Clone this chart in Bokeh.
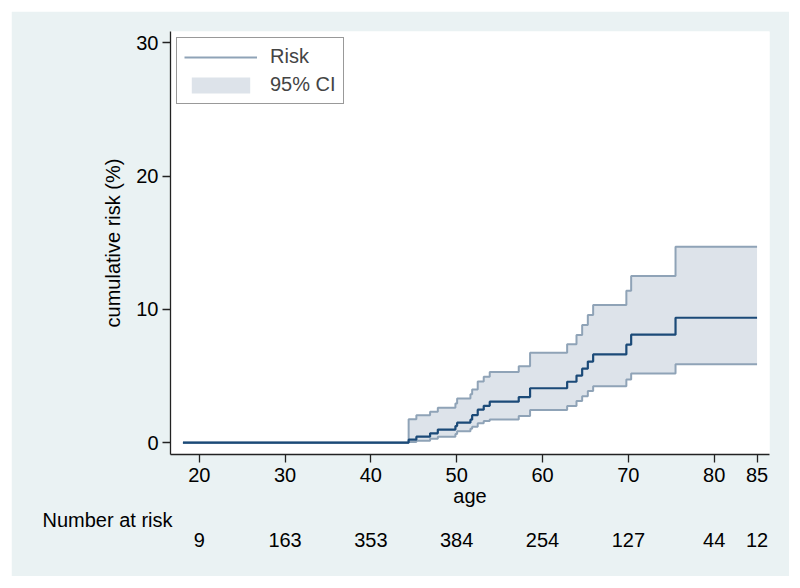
from bokeh.plotting import figure
from bokeh.models import FixedTicker, LinearAxis, Title, Legend, LegendItem, Range1d
from bokeh.embed import file_html
from bokeh.resources import INLINE

# ---- data ----
age = [18.1, 44.4, 45.3, 46.9, 47.8, 49.85, 50.05, 51.6, 51.8, 52.45, 53.15, 53.85,
       57.23, 58.55, 62.87, 63.96, 64.62, 65.28, 65.9, 69.77, 70.33, 75.5, 85.0]
risk = [0, 0.22, 0.45, 0.70, 0.98, 1.24, 1.50, 1.72, 2.06, 2.47, 2.76, 3.07,
        3.42, 4.08, 4.57, 5.03, 5.55, 6.08, 6.62, 7.35, 8.10, 9.37, 9.37]
upper = [0, 1.76, 2.06, 2.31, 2.61, 2.94, 3.32, 3.64, 3.99, 4.59, 4.94, 5.30,
         5.74, 6.74, 7.39, 8.07, 8.82, 9.57, 10.32, 11.40, 12.50, 14.70, 14.70]
lower = [0, 0.05, 0.15, 0.30, 0.45, 0.65, 0.85, 1.05, 1.20, 1.45, 1.62, 1.74,
         1.99, 2.44, 2.74, 3.12, 3.49, 3.87, 4.24, 4.74, 5.19, 5.89, 5.89]

x_ticks = [20, 30, 40, 50, 60, 70, 80, 85]
y_ticks = [0, 10, 20, 30]
risk_ages = [20, 30, 40, 50, 60, 70, 80, 85]
n_at_risk = [9, 163, 353, 384, 254, 127, 44, 12]

FONT = "Liberation Sans"
FS = "20px"
BG = "#eaf2f3"
DARK = "#1b4a78"
CI_LINE = "#8fa3b7"
CI_FILL = "#dde3ea"

x0, x1 = 16.65, 86.45
y0, y1 = -0.89, 30.85

p = figure(width=778, height=565, output_backend="svg", toolbar_location=None,
           x_range=Range1d(x0, x1), y_range=Range1d(y0, y1),
           min_border_left=159, min_border_right=20, min_border_top=20,
           min_border_bottom=122, background_fill_color="white",
           border_fill_color=BG, outline_line_color=None, margin=(11, 0, 0, 11))
p.xgrid.visible = False
p.ygrid.visible = False

r_band = p.varea_step(x=age, y1=lower, y2=upper, step_mode="after",
                      fill_color=CI_FILL, fill_alpha=1)
r_up = p.step(age, upper, mode="after", line_color=CI_LINE, line_width=2)
r_lo = p.step(age, lower, mode="after", line_color=CI_LINE, line_width=2)
r_risk = p.step(age, risk, mode="after", line_color=DARK, line_width=2.2)

for ax in (p.xaxis[0], p.yaxis[0]):
    ax.axis_line_color = "#222222"
    ax.axis_line_width = 1.3
    ax.major_tick_line_color = "#222222"
    ax.major_tick_line_width = 1.3
    ax.major_tick_out = 8
    ax.major_tick_in = 0
    ax.minor_tick_line_color = None
    ax.major_label_text_font = FONT
    ax.major_label_text_font_size = FS
    ax.major_label_text_color = "black"
    ax.axis_label_text_font = FONT
    ax.axis_label_text_font_size = FS
    ax.axis_label_text_font_style = "normal"
    ax.axis_label_text_color = "black"

p.xaxis[0].ticker = FixedTicker(ticks=x_ticks)
p.xaxis[0].axis_label = "age"
p.xaxis[0].major_label_standoff = 5
p.xaxis[0].axis_label_standoff = 0
p.yaxis[0].ticker = FixedTicker(ticks=y_ticks)
p.yaxis[0].axis_label = "cumulative risk (%)"
p.yaxis[0].major_label_standoff = 4
p.yaxis[0].axis_label_standoff = 9

# "Number at risk" row heading, then the numbers as a tick-label-only axis
nar_title = Title(text="Number at risk", align="left", offset=-128,
                  text_font=FONT, text_font_size=FS, text_font_style="normal",
                  text_color="black")
try:
    nar_title.standoff = -5
    nar_shift = 0
except Exception:
    nar_title.standoff = 0
    nar_shift = 5
p.add_layout(nar_title, "below")

ax2 = LinearAxis(ticker=FixedTicker(ticks=risk_ages),
                 major_label_overrides={a: str(n) for a, n in zip(risk_ages, n_at_risk)})
ax2.axis_line_color = None
ax2.major_tick_line_color = None
ax2.minor_tick_line_color = None
ax2.major_tick_out = 0
ax2.major_tick_in = 0
ax2.major_label_standoff = 4 - nar_shift
ax2.major_label_text_font = FONT
ax2.major_label_text_font_size = FS
ax2.major_label_text_color = "black"
p.add_layout(ax2, "below")

legend = Legend(items=[LegendItem(label="Risk", renderers=[r_up]),
                       LegendItem(label="95% CI", renderers=[r_band])],
                location="top_left", margin=6, padding=7, spacing=5,
                glyph_width=73, glyph_height=20, label_height=20,
                label_standoff=13, label_text_font=FONT, label_text_font_size=FS,
                border_line_color="#333333", border_line_width=1,
                background_fill_color="white", background_fill_alpha=1)
p.add_layout(legend)

open("out.html", "w").write(file_html(p, INLINE))
